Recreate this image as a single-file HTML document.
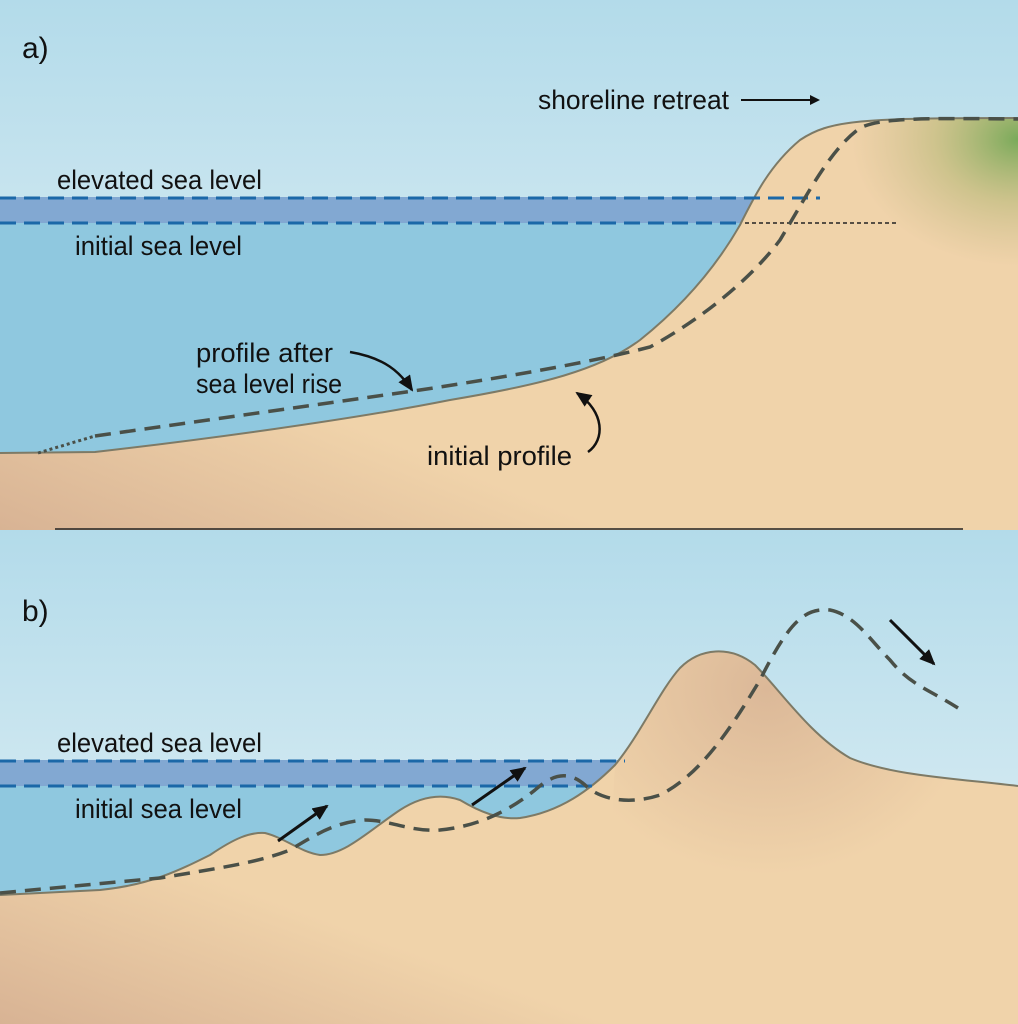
<!DOCTYPE html>
<html><head><meta charset="utf-8"><style>
html,body{margin:0;padding:0;background:#fff}
svg{display:block}
text{font-family:"Liberation Sans Narrow","Liberation Sans",sans-serif;font-size:27px;fill:#111}
</style></head><body>
<svg width="1018" height="1024" viewBox="0 0 1018 1024" xmlns="http://www.w3.org/2000/svg">
<defs>
<linearGradient id="sky" x1="0" y1="0" x2="0" y2="1"><stop offset="0" stop-color="#b3dbea"/><stop offset="1" stop-color="#e8f3f6"/></linearGradient>
<linearGradient id="sand" x1="0" y1="1" x2="1" y2="0"><stop offset="0" stop-color="#d8b394"/><stop offset="0.3" stop-color="#f0d3aa"/><stop offset="1" stop-color="#f0d3aa"/></linearGradient>
<radialGradient id="green" cx="1" cy="0.1" r="0.6"><stop offset="0" stop-color="#7aaa5a"/><stop offset="0.5" stop-color="#b8b97a" stop-opacity="0.6"/><stop offset="1" stop-color="#c8b98a" stop-opacity="0"/></radialGradient>
<radialGradient id="peak" cx="0.4" cy="0.1" r="0.5"><stop offset="0" stop-color="#dbb898"/><stop offset="1" stop-color="#dbb898" stop-opacity="0"/></radialGradient>
<marker id="ah" markerWidth="10" markerHeight="10" refX="8" refY="5" orient="auto" markerUnits="userSpaceOnUse"><path d="M0,0 L10,5 L0,10 Z" fill="#111"/></marker>
<marker id="ah2" markerWidth="16" markerHeight="14" refX="14" refY="7" orient="auto" markerUnits="userSpaceOnUse"><path d="M0,0 L16,7 L0,14 Z" fill="#111"/></marker>
</defs>
<!-- Panel a -->
<rect x="0" y="0" width="1018" height="530" fill="url(#sky)"/>
<rect x="0" y="197" width="760" height="26" fill="#82a8d2"/>
<rect x="0" y="223" width="760" height="240" fill="#8fc8df"/>
<path d="M0,453 L95,452 C200,440 350,420 450,400 C540,385 600,370 640,340 C690,300 720,260 740,225 C755,195 770,165 800,140 C830,120 860,118 1018,118 L1018,530 L0,530 Z" fill="url(#sand)" stroke="none"/>
<path d="M740,225 C755,195 770,165 800,140 C830,120 860,118 1018,118 L1018,330 Z" fill="url(#green)"/>
<path d="M0,453 L95,452 C200,440 350,420 450,400 C540,385 600,370 640,340 C690,300 720,260 740,225 C755,195 770,165 800,140 C830,120 860,118 1018,118" fill="none" stroke="#7d7a66" stroke-width="2"/>
<line x1="0" y1="198" x2="820" y2="198" stroke="#1b68a8" stroke-width="3" stroke-dasharray="16,8"/>
<line x1="0" y1="223" x2="742" y2="223" stroke="#1b68a8" stroke-width="3" stroke-dasharray="16,8"/>
<line x1="745" y1="223" x2="897" y2="223" stroke="#222" stroke-width="1.5" stroke-dasharray="4,3"/>
<path d="M38,453 L95,436" fill="none" stroke="#4a5048" stroke-width="3" stroke-dasharray="3,3"/>
<path d="M95,436 L420,390 C520,375 600,360 650,347 C700,320 750,280 780,240 C810,190 830,150 860,128 C880,118 920,118 1018,119" fill="none" stroke="#4a5048" stroke-width="3.5" stroke-dasharray="16,9"/>
<line x1="741" y1="100" x2="818" y2="100" stroke="#111" stroke-width="2" marker-end="url(#ah)"/>
<path d="M350,352 C385,358 400,372 412,390" fill="none" stroke="#111" stroke-width="2.5" marker-end="url(#ah2)"/>
<path d="M588,452 C605,440 605,412 577,393" fill="none" stroke="#111" stroke-width="2.5" marker-end="url(#ah2)"/>
<text x="22" y="58" style="font-size:30px">a)</text>
<text x="538" y="109" textLength="191" lengthAdjust="spacingAndGlyphs">shoreline retreat</text>
<text x="57" y="189" textLength="205" lengthAdjust="spacingAndGlyphs">elevated sea level</text>
<text x="75" y="255" textLength="167" lengthAdjust="spacingAndGlyphs">initial sea level</text>
<text x="196" y="362" textLength="137" lengthAdjust="spacingAndGlyphs">profile after</text>
<text x="196" y="393" textLength="146" lengthAdjust="spacingAndGlyphs">sea level rise</text>
<text x="427" y="465" textLength="145" lengthAdjust="spacingAndGlyphs">initial profile</text>
<line x1="55" y1="529" x2="963" y2="529" stroke="#222" stroke-width="1.5"/>
<!-- Panel b -->
<rect x="0" y="530" width="1018" height="494" fill="url(#sky)"/>
<rect x="0" y="760" width="640" height="26" fill="#82a8d2"/>
<rect x="0" y="786" width="640" height="120" fill="#8fc8df"/>
<path d="M0,895 L100,890 C150,885 180,870 210,855 C235,838 250,832 265,833 C285,838 300,852 320,855 C345,855 370,830 400,810 C420,797 440,793 460,800 C480,812 500,820 520,818 C560,812 590,790 615,765 C640,735 660,690 680,668 C700,648 730,645 755,665 C780,690 810,735 850,758 C890,775 950,778 1018,786 L1018,1024 L0,1024 Z" fill="url(#sand)"/>
<path d="M600,1024 L615,765 C640,735 660,690 680,668 C700,648 730,645 755,665 C780,690 810,735 850,758 C890,775 950,778 1018,786 L1018,1024 Z" fill="url(#peak)"/>
<path d="M0,895 L100,890 C150,885 180,870 210,855 C235,838 250,832 265,833 C285,838 300,852 320,855 C345,855 370,830 400,810 C420,797 440,793 460,800 C480,812 500,820 520,818 C560,812 590,790 615,765 C640,735 660,690 680,668 C700,648 730,645 755,665 C780,690 810,735 850,758 C890,775 950,778 1018,786" fill="none" stroke="#7d7a66" stroke-width="2"/>
<line x1="0" y1="761" x2="625" y2="761" stroke="#1b68a8" stroke-width="3" stroke-dasharray="16,8"/>
<line x1="0" y1="786" x2="600" y2="786" stroke="#1b68a8" stroke-width="3" stroke-dasharray="16,8"/>
<path d="M0,893 L160,878 C220,868 260,862 290,850 C315,835 335,822 365,820 C390,820 410,832 440,830 C480,826 510,810 535,790 C555,772 570,772 585,785 C600,800 630,805 660,795 C700,775 730,730 760,680 C790,620 805,608 830,610 C855,615 870,640 890,660 C910,685 930,690 958,708" fill="none" stroke="#4a5048" stroke-width="3.5" stroke-dasharray="16,9"/>
<line x1="278" y1="841" x2="327" y2="806" stroke="#111" stroke-width="3" marker-end="url(#ah2)"/>
<line x1="472" y1="805" x2="525" y2="768" stroke="#111" stroke-width="3" marker-end="url(#ah2)"/>
<line x1="890" y1="620" x2="934" y2="664" stroke="#111" stroke-width="3" marker-end="url(#ah2)"/>
<text x="22" y="621" style="font-size:30px">b)</text>
<text x="57" y="752" textLength="205" lengthAdjust="spacingAndGlyphs">elevated sea level</text>
<text x="75" y="818" textLength="167" lengthAdjust="spacingAndGlyphs">initial sea level</text>
</svg>
</body></html>
